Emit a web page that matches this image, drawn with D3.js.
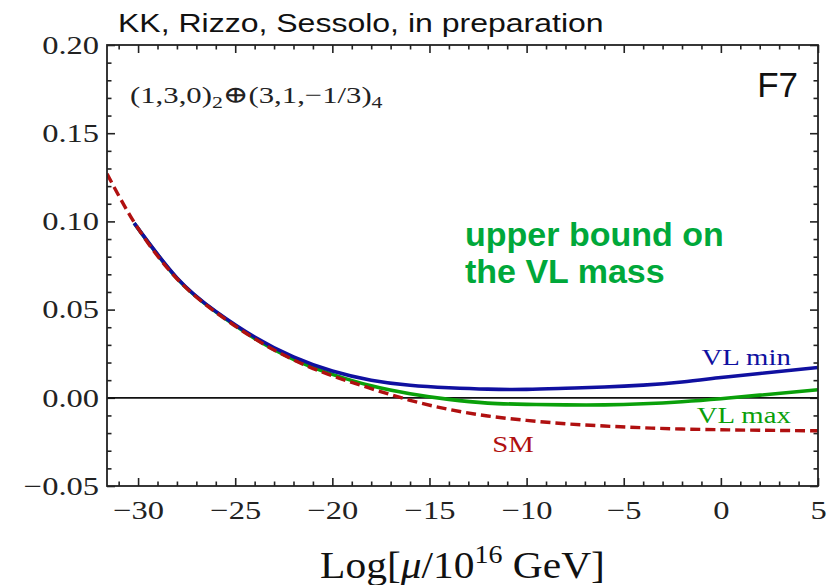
<!DOCTYPE html>
<html>
<head>
<meta charset="utf-8">
<script src="https://cdn.jsdelivr.net/npm/d3@7"></script>
<style>
  body { margin: 0; background: #fff; }
</style>
</head>
<body>
<div id="chart"></div>
<script>
// values
const smX   = [-31.6, -30, -28, -26, -24, -22, -20, -18, -16, -14, -12, -10, -8, -6, -4, -2, 0, 2, 5];
const smY   = [0.127, 0.096, 0.0675, 0.0485, 0.0335, 0.0215, 0.0125, 0.0052, -0.0014, -0.0066, -0.0103, -0.0128, -0.0147, -0.0160, -0.0170, -0.0177, -0.0181, -0.0184, -0.0187];
const vlX   = [-30.2, -28, -26, -24, -22, -20, -18, -16, -14, -12, -10, -8, -6, -4, -2, 0, 2, 5];
const minY  = [0.099, 0.068, 0.049, 0.0345, 0.0232, 0.0152, 0.0100, 0.0071, 0.0057, 0.0049, 0.0048, 0.0054, 0.0061, 0.0072, 0.0090, 0.0115, 0.0138, 0.0172];
const maxY  = [0.099, 0.0677, 0.0487, 0.0337, 0.0218, 0.0133, 0.0068, 0.0023, -0.0009, -0.0030, -0.0037, -0.0040, -0.0040, -0.0034, -0.0022, -0.0005, 0.0015, 0.0046];
const xTicks = [-30, -25, -20, -15, -10, -5, 0, 5];
const yTicks = [-0.05, 0.00, 0.05, 0.10, 0.15, 0.20];

const margin = { top: 45, right: 20, bottom: 99, left: 107 };
const width = 838 - margin.left - margin.right;
const height = 585 - margin.top - margin.bottom;

const serif = "Liberation Serif, DejaVu Serif, serif";
const sans = "Liberation Sans, Arial, sans-serif";
const sx = 1.25; // the original figure is stretched horizontally

// widen a text element without changing its height
function stretch(sel, k) {
    sel.each(function() {
        const w = this.getComputedTextLength();
        d3.select(this).attr("textLength", w * k).attr("lengthAdjust", "spacingAndGlyphs");
    });
}

const svg = d3.select("#chart").append("svg")
    .attr("width", 838)
    .attr("height", 585);

const g = svg.append("g")
    .attr("transform", `translate(${margin.left},${margin.top})`);

const x = d3.scaleLinear().domain([-31.6, 5]).range([0, width]);
const y = d3.scaleLinear().domain([-0.05, 0.20]).range([height, 0]);

g.append("clipPath").attr("id", "clip")
  .append("rect").attr("width", width).attr("height", height);

// minor ticks every 1 in x and 0.01 in y
const xMinor = d3.range(-31, 6).filter(v => v % 5 !== 0);
const yMinor = d3.range(-4, 20).filter(v => v % 5 !== 0).map(v => v / 100);

function tickStyle(sel) {
    sel.select(".domain").remove();
    sel.selectAll("line").attr("stroke", "#222").attr("stroke-width", 1.6);
    sel.selectAll("text")
        .attr("font-family", serif)
        .attr("font-size", 26)
        .attr("fill", "#222");
}

const fmtY = d3.format(".2f");

// bottom
const xAxisG = g.append("g").attr("transform", `translate(0,${height})`)
    .call(d3.axisBottom(x).tickValues(xTicks).tickSize(-8).tickPadding(15).tickFormat(d3.format("d")))
    .call(tickStyle);
xAxisG.selectAll("text").call(stretch, sx);
g.append("g").attr("transform", `translate(0,${height})`)
    .call(d3.axisBottom(x).tickValues(xMinor).tickSize(-4.5).tickFormat(""))
    .call(tickStyle);
// top
g.append("g")
    .call(d3.axisTop(x).tickValues(xTicks).tickSize(-8).tickFormat(""))
    .call(tickStyle);
g.append("g")
    .call(d3.axisTop(x).tickValues(xMinor).tickSize(-4.5).tickFormat(""))
    .call(tickStyle);
// left
const yAxisG = g.append("g")
    .call(d3.axisLeft(y).tickValues(yTicks).tickSize(-8).tickPadding(8).tickFormat(fmtY))
    .call(tickStyle);
yAxisG.selectAll("text").call(stretch, sx);
g.append("g")
    .call(d3.axisLeft(y).tickValues(yMinor).tickSize(-4.5).tickFormat(""))
    .call(tickStyle);
// right
g.append("g").attr("transform", `translate(${width},0)`)
    .call(d3.axisRight(y).tickValues(yTicks).tickSize(-8).tickFormat(""))
    .call(tickStyle);
g.append("g").attr("transform", `translate(${width},0)`)
    .call(d3.axisRight(y).tickValues(yMinor).tickSize(-4.5).tickFormat(""))
    .call(tickStyle);

// zero line
g.append("line")
    .attr("x1", 0).attr("x2", width)
    .attr("y1", y(0)).attr("y2", y(0))
    .attr("stroke", "#111").attr("stroke-width", 1.8);

const line = d3.line()
    .x(d => x(d[0]))
    .y(d => y(d[1]))
    .curve(d3.curveNatural);

const plot = g.append("g").attr("clip-path", "url(#clip)");

plot.append("path")
    .datum(d3.zip(vlX, maxY))
    .attr("d", line)
    .attr("fill", "none")
    .attr("stroke", "#0aa00a")
    .attr("stroke-width", 3.6);

plot.append("path")
    .datum(d3.zip(vlX, minY))
    .attr("d", line)
    .attr("fill", "none")
    .attr("stroke", "#1010a0")
    .attr("stroke-width", 3.6);

plot.append("path")
    .datum(d3.zip(smX, smY))
    .attr("d", line)
    .attr("fill", "none")
    .attr("stroke", "#b01010")
    .attr("stroke-width", 3.4)
    .attr("stroke-dasharray", "10,5");

// frame
g.append("rect")
    .attr("width", width).attr("height", height)
    .attr("fill", "none")
    .attr("stroke", "#222")
    .attr("stroke-width", 1.8);

// curve labels
g.append("text").attr("x", x(3.6)).attr("y", y(0.0188))
    .attr("text-anchor", "end").attr("font-family", serif).attr("font-size", 23)
    .attr("fill", "#1010a0").text("VL min").call(stretch, sx);
g.append("text").attr("x", x(3.6)).attr("y", y(-0.0145))
    .attr("text-anchor", "end").attr("font-family", serif).attr("font-size", 23)
    .attr("fill", "#0aa00a").text("VL max").call(stretch, sx);
g.append("text").attr("x", x(-10.7)).attr("y", y(-0.0307))
    .attr("text-anchor", "middle").attr("font-family", serif).attr("font-size", 23)
    .attr("fill", "#b01010").text("SM").call(stretch, sx);

// model label
const model = g.append("text").attr("x", 23).attr("y", 58)
    .attr("font-family", serif).attr("font-size", 24).attr("fill", "#222");
model.append("tspan").text("(1,3,0)");
model.append("tspan").attr("font-size", 17).attr("dy", 5).text("2");
model.append("tspan").attr("dy", -5).text("\u2295(3,1,\u22121/3)");
model.append("tspan").attr("font-size", 17).attr("dy", 5).text("4");
model.call(stretch, 1.28);

// F7
g.append("text").attr("x", width - 20).attr("y", 52)
    .attr("text-anchor", "end")
    .attr("font-family", sans)
    .attr("font-size", 35).attr("fill", "#111").text("F7");

// green annotation
const ann = g.append("text")
    .attr("font-family", sans)
    .attr("font-weight", "bold").attr("font-size", 34)
    .attr("fill", "#00a83a");
ann.append("tspan").attr("x", 358).attr("y", 201).text("upper bound on");
ann.append("tspan").attr("x", 358).attr("y", 238).text("the VL mass");

// header
svg.append("text").attr("x", 118).attr("y", 32)
    .attr("font-family", sans)
    .attr("font-size", 25).attr("fill", "#111")
    .text("KK, Rizzo, Sessolo, in preparation")
    .call(stretch, 1.28);

// x-axis title
const xt = svg.append("text")
    .attr("x", margin.left + width / 2 + 0).attr("y", 578)
    .attr("text-anchor", "middle")
    .attr("font-family", serif).attr("font-size", 37).attr("fill", "#111");
xt.append("tspan").text("Log[");
xt.append("tspan").attr("font-style", "italic").text("\u03bc");
xt.append("tspan").text("/10");
xt.append("tspan").attr("font-size", 25).attr("dy", -15).text("16");
xt.append("tspan").attr("dy", 15).text(" GeV]");
xt.call(stretch, 1.12);
</script>
</body>
</html>
